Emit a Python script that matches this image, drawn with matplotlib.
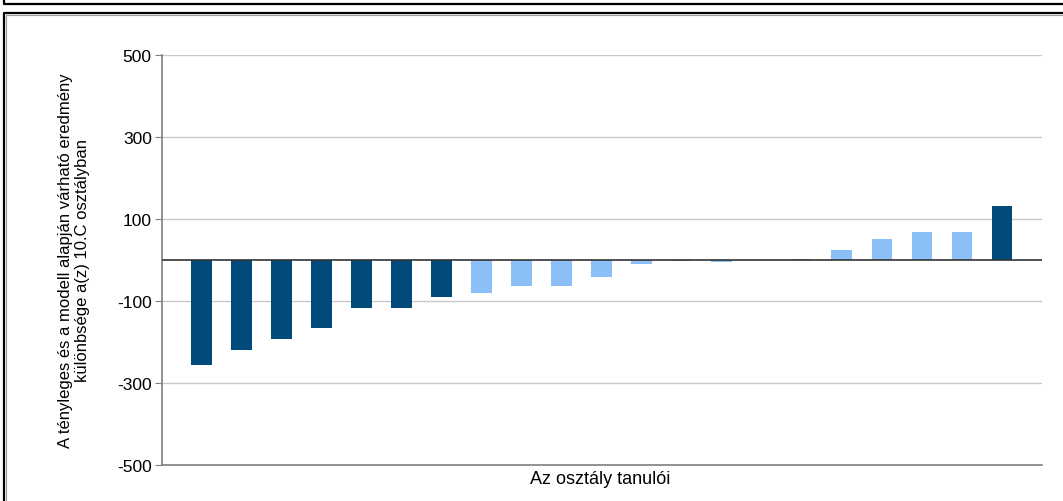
import matplotlib
matplotlib.use("Agg")
import matplotlib.pyplot as plt
from matplotlib.lines import Line2D

plt.rcParams['font.family'] = ['Liberation Sans', 'DejaVu Sans']

students = list(range(1, 22))
values = [-255, -220, -192, -166, -117, -117, -90, -80, -63, -63, -41, -10,
          -3, -4, -1, 2, 24, 51, 69, 69, 132]
dark = [True] * 7 + [False] * 13 + [True]
yticks = [-500, -300, -100, 100, 300, 500]
ylabel = "A tényleges és a modell alapján várható eredmény\nkülönbsége a(z) 10.C osztályban"
xlabel = "Az osztály tanulói"

DARK = "#004b7a"
LIGHT = "#8bbff8"

W, H = 1063, 502
fig = plt.figure(figsize=(W / 100, H / 100), dpi=100)
ax = fig.add_axes([161.5 / W, 1 - 466 / H, (1042 - 161.5) / W, (466 - 56) / H])

colors = [DARK if d else LIGHT for d in dark]
ax.bar(students, values, width=0.52, color=colors, zorder=3)

ax.set_xlim(0, 22)
ax.set_ylim(-500, 500)
ax.set_yticks(yticks)
ax.set_yticklabels([str(t) for t in yticks], fontsize=12.5)
ax.set_xticks([])
for t in yticks:
    ax.axhline(t, color="#c8c8c8", lw=1, zorder=1)
ax.axhline(0, color="#333333", lw=1.2, zorder=4)

for s in ["top", "right"]:
    ax.spines[s].set_visible(False)
ax.spines["left"].set_color("#808080")
ax.spines["bottom"].set_color("#808080")
ax.spines["left"].set_linewidth(1.2)
ax.spines["bottom"].set_linewidth(1.2)
ax.tick_params(axis="y", length=5, color="#808080", pad=2)

fig.text(74 / W, 1 - 261 / H, ylabel, rotation=90, ha="center", va="center",
         fontsize=12, linespacing=1.12)
fig.text(600 / W, 1 - 480 / H, xlabel, ha="center", va="center", fontsize=13)

def px_line(xs, ys, **kw):
    fig.add_artist(Line2D([x / W for x in xs], [1 - y / H for y in ys],
                          transform=fig.transFigure, **kw))

# outer frames
px_line([4, 4, W], [0, 5, 5], color="#000000", lw=1.6)
px_line([4, 4, W], [502, 14, 14], color="#000000", lw=1.6)
px_line([6, 6, W], [502, 16, 16], color="#9a9a9a", lw=0.8)

fig.savefig("out.png", dpi=100)
